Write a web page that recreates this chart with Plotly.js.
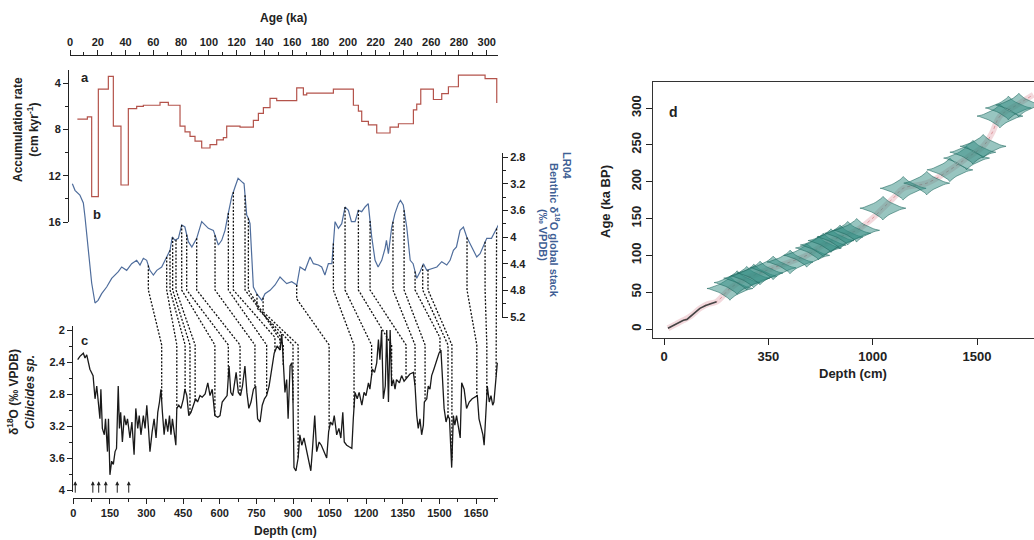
<!DOCTYPE html>
<html><head><meta charset="utf-8">
<script src="https://cdn.plot.ly/plotly-3.0.1.min.js"></script>
<style>html,body{margin:0;padding:0;background:#fff}#chart{width:1034px;height:540px}</style>
</head><body><div id="chart"></div>
<script>
// ---------- Panel a: accumulation rate (step start ages, ka) ----------
const accAge  = [5.3,12.5,15.6,20.4,27.6,31.2,36.7,42.0,48.0,52.8,64.8,70.8,79.2,82.8,86.4,90.0,94.8,100.8,105.6,110.4,112.8,122.4,132.0,135.6,139.2,144.0,148.8,163.2,168.0,170.4,189.6,204.0,207.6,210.0,214.8,220.8,230.4,236.4,247.2,249.6,252.5,261.6,267.6,272.4,279.6,298.8,306.0,307.2];
const accRate = [7.1,6.9,13.8,4.5,3.4,7.7,12.8,6.2,6.0,5.9,5.65,5.9,7.7,8.2,8.6,9.0,9.6,9.3,8.9,8.7,7.7,7.8,7.2,6.6,6.1,5.3,5.5,4.4,5.0,4.85,4.5,5.9,6.4,7.3,7.6,8.3,7.8,7.5,6.3,5.8,4.5,5.4,4.9,4.3,3.3,3.6,3.6,5.7];

// ---------- Panel b: LR04 benthic d18O stack ----------
const lr04Age = [1.7,3.6,7.1,9.6,10.8,13.1,15.6,18.0,20.2,22.8,
 26.4,30.0,34.8,37.2,40.8,44.4,48.0,50.4,52.8,55.2,
 57.5,60.0,62.5,66.0,69.6,72.0,73.6,75.6,78.0,80.4,
 82.7,85.2,87.7,91.2,94.8,97.2,99.6,103.2,106.8,109.2,
 111.6,113.9,116.4,118.8,121.0,123.6,125.3,127.2,128.4,129.6,
 132.0,134.4,138.1,140.4,144.0,147.6,151.2,153.6,156.0,159.6,
 163.3,165.6,169.2,172.8,175.2,178.8,181.2,183.5,186.0,188.5,
 190.8,193.2,195.6,198.0,200.4,202.6,205.2,207.6,210.0,212.4,
 214.7,217.2,219.6,221.8,224.4,226.8,227.8,229.2,231.6,233.9,
 236.4,237.9,239.9,242.4,244.9,247.0,249.6,252.0,254.4,256.8,
 260.4,264.1,267.6,271.2,273.6,276.0,278.2,280.8,283.2,285.6,
 288.0,290.3,292.8,295.2,297.6,300.0,303.4,306.0,308.4];
const lr04D18O = [3.2,3.3,3.37,3.49,3.7,4.2,4.69,4.99,4.95,4.85,
 4.75,4.62,4.52,4.45,4.5,4.4,4.35,4.42,4.32,4.35,
 4.5,4.57,4.5,4.45,4.3,4.2,4.0,4.05,4.02,3.82,
 3.85,4.07,4.15,4.02,3.77,3.82,3.87,3.9,4.12,4.05,
 3.9,3.65,3.4,3.25,3.12,3.17,3.2,3.67,3.72,3.8,
 4.75,4.85,4.95,4.85,4.8,4.72,4.6,4.65,4.7,4.67,
 4.72,4.45,4.5,4.3,4.4,4.42,4.45,4.57,4.4,4.4,
 3.77,3.87,3.8,3.55,3.6,3.77,3.77,3.6,3.62,3.55,
 3.5,4.0,4.35,4.45,4.35,4.17,4.05,4.25,3.85,3.65,
 3.5,3.45,3.52,3.85,4.35,4.4,4.62,4.52,4.4,4.5,
 4.47,4.45,4.37,4.42,4.35,4.2,4.15,3.9,3.85,4.0,
 4.1,4.2,4.3,4.25,4.12,4.02,4.02,3.92,3.82];

// ---------- Panel c: Cibicides sp. d18O vs depth ----------
const cibDepth = [18,27,41,48,55,61,68,81,89,96,
 103,109,113,119,127,132,140,144,150,157,
 164,171,177,184,189,194,201,209,216,222,
 232,240,249,256,264,270,277,287,294,301,
 307,314,323,331,339,346,353,359,365,372,
 379,387,394,400,406,414,420,424,432,441,
 451,457,465,473,482,492,501,509,519,528,
 540,551,560,569,580,592,601,610,621,630,
 638,645,653,659,667,676,685,693,703,711,
 719,728,738,747,755,765,774,783,792,802,
 813,823,835,847,854,860,867,874,880,888,
 895,899,904,912,921,928,936,945,956,967,
 973,980,989,997,1007,1016,1027,1038,1046,1054,
 1062,1069,1079,1088,1096,1104,1110,1120,1130,1141,
 1147,1154,1163,1171,1182,1191,1199,1209,1215,1225,
 1234,1243,1250,1256,1263,1270,1278,1284,1291,1298,
 1304,1311,1318,1324,1336,1345,1355,1365,1379,1393,
 1400,1407,1413,1420,1427,1434,1438,1448,1454,1461,
 1468,1477,1489,1498,1506,1513,1519,1527,1534,1541,
 1546,1550,1557,1563,1570,1577,1585,1591,1601,1611,
 1622,1634,1646,1655,1662,1670,1678,1683,1690,1696,
 1704,1711,1718,1723,1731,1737];
const cibD18O = [2.37,2.33,2.29,2.35,2.31,2.41,2.49,2.57,2.86,2.70,
 2.94,3.11,2.74,3.23,3.31,3.11,3.52,3.11,3.81,3.64,
 3.68,3.52,3.48,2.70,3.23,3.03,3.40,3.07,3.19,3.11,
 3.35,3.15,3.56,2.98,3.23,3.07,3.31,3.07,3.23,2.94,
 3.19,3.52,3.27,3.11,3.35,3.03,2.90,2.74,3.03,3.31,
 3.11,3.27,3.07,3.31,3.11,3.27,3.44,2.98,2.94,2.98,
 2.86,2.74,2.82,3.07,3.03,2.94,2.86,2.90,2.82,2.84,
 2.80,2.66,2.82,2.74,3.07,3.09,3.07,2.90,2.86,2.82,
 2.45,2.78,2.82,2.70,2.53,2.78,2.82,2.70,2.45,2.78,
 2.98,2.90,2.74,2.70,3.11,3.15,2.94,2.86,2.82,2.70,
 2.49,2.29,2.20,2.25,2.05,2.45,2.78,2.62,3.11,2.45,
 2.41,2.70,3.72,3.76,3.60,3.31,3.44,3.35,3.52,3.68,
 3.76,3.48,3.07,3.52,3.40,3.44,3.52,3.60,3.27,3.15,
 3.19,3.07,3.31,3.23,3.35,3.03,3.40,3.44,3.46,3.48,
 3.11,2.78,2.86,2.78,2.94,2.78,2.82,2.66,2.74,2.49,
 2.53,2.41,2.12,2.37,2.00,2.86,2.70,2.00,2.90,2.00,
 2.70,2.62,2.74,2.62,2.66,2.57,2.64,2.60,2.55,2.53,
 2.70,3.07,3.23,3.11,3.31,3.19,2.90,2.86,2.70,2.74,
 2.57,2.49,2.37,2.29,2.25,2.70,2.98,3.15,3.07,3.11,
 3.52,3.72,3.07,3.19,3.07,3.23,3.35,2.66,2.74,2.98,
 2.90,2.86,2.84,2.82,3.11,3.23,3.31,3.44,3.03,2.70,
 2.90,2.82,2.94,2.90,2.62,2.41];

// tie points between LR04 (age) and core (depth)
const tieAge   = [56.4,69.6,72.0,73.9,76.3,80.4,84.0,91.2,104.4,114.0,117.6,126.0,128.4,134.6,139.0,163.2,189.6,198.0,207.6,216.0,232.5,240.5,248.4,253.9,257.7,285.8,298.8,307.1];
const tieDepth = [362,424,458,478,499,580,635,683,744,792,826,847,860,900,921,1048,1150,1222,1304,1363,1400,1441,1502,1535,1551,1653,1694,1732];
// radiocarbon dated depths (arrows)
const datedDepth = [8,80,104,133,180,227];

// ---------- Panel d: age-depth model ----------
const modelDepth = [19,60,93,130,172,210,252,316,396,460,523,604,684,763,843,923,990,1049,1100,1146,1259,1370,1450,1529,1570,1610,1690,1770];
const modelAge   = [1,7,12,18,28,34,37,55,69,76,83,91,100,114,125,134,148,164,178,191,198,216,232,248,265,289,304,318];
const earlyDepth = [19,40,60,93,110,130,150,172,200,230,252];
const earlyAge   = [1,4,7,12,13,18,23,28,32,35,37];
const dateDepth = [316,350,396,430,460,523,604,684,740,763,800,843,880,923,1049,1146,1259,1370,1450,1480,1529,1610,1650,1700];
const dateAge   = [55,63,69,72,76,83,91,100,110,114,120,125,130,134,164,191,198,216,232,240,248,289,300,304];
const dTickVals = [0,500,1000,1500];
const dTickText = ['0','350','1000','1500'];

// ---------- layout helpers ----------
const W = 1034, H = 540;
const FONT = 'Liberation Sans, Arial, sans-serif';
const INK = '#222';
const pX = p => p / W;
const pY = p => 1 - p / H;
const tickF = {family: FONT, size: 11, color: INK, weight: 'bold'};
const common = {showgrid: false, zeroline: false, showline: true, linecolor: INK, linewidth: 1,
  ticks: 'outside', ticklen: 5, tickwidth: 1, tickcolor: INK, tickfont: tickF};

const axDepth = Object.assign({}, common, {domain: [pX(72.7), pX(498.3)], range: [-2.5, 1741],
  anchor: 'free', position: pY(498), side: 'bottom', tick0: 0, dtick: 150,
  minor: {dtick: 75, ticklen: 3, ticks: 'outside', tickcolor: INK}});
const axAge = Object.assign({}, common, {domain: [pX(70), pX(498)], range: [0, 308.1],
  anchor: 'free', position: pY(55), side: 'top', tick0: 0, dtick: 20,
  minor: {dtick: 10, ticklen: 3, ticks: 'outside', tickcolor: INK}});
const yA = Object.assign({}, common, {domain: [pY(222), pY(70)], range: [16, 2.85],
  anchor: 'free', position: pX(68), side: 'left', tick0: 0, dtick: 4,
  minor: {dtick: 2, ticklen: 3, ticks: 'outside', tickcolor: INK}});
const yB = Object.assign({}, common, {domain: [pY(318), pY(153)], range: [5.215, 2.74],
  anchor: 'free', position: pX(502), side: 'right', tick0: 0, dtick: 0.4,
  minor: {dtick: 0.2, ticklen: 3, ticks: 'outside', tickcolor: INK}});
const yC = Object.assign({}, common, {domain: [pY(492), pY(326)], range: [4.025, 1.95],
  anchor: 'free', position: pX(72), side: 'left', tick0: 0, dtick: 0.4,
  minor: {dtick: 0.2, ticklen: 3, ticks: 'outside', tickcolor: INK}});
const xD = Object.assign({}, common, {domain: [pX(653), 1], range: [-52.7, 1773], anchor: 'y4',
  tickvals: dTickVals, ticktext: dTickText, ticklen: 6, mirror: true, linewidth: 1.2, linecolor: '#333',
  tickfont: {family: FONT, size: 13, color: INK, weight: 'bold'}});
const yD = Object.assign({}, common, {domain: [pY(338), pY(82)], range: [-12.2, 335.3], anchor: 'x3',
  tick0: 0, dtick: 50, tickangle: -90, ticklen: 6, linewidth: 1.2, linecolor: '#333',
  tickfont: {family: FONT, size: 13, color: INK, weight: 'bold'}});
const xO = {domain: [0, 1], range: [0, 1], visible: false, anchor: 'y5', fixedrange: true};
const yO = {domain: [0, 1], range: [0, 1], visible: false, anchor: 'x4', fixedrange: true};

function toPaper(ax, v) {
  return ax.domain[0] + (v - ax.range[0]) / (ax.range[1] - ax.range[0]) * (ax.domain[1] - ax.domain[0]);
}
function interp(xs, ys, x) {
  if (x <= xs[0]) return ys[0];
  for (let i = 0; i < xs.length - 1; i++) {
    if (x >= xs[i] && x <= xs[i + 1]) {
      const t = (x - xs[i]) / (xs[i + 1] - xs[i]);
      return ys[i] + t * (ys[i + 1] - ys[i]);
    }
  }
  return ys[ys.length - 1];
}

// ---------- connectors (dotted tie lines) ----------
const BEND_TOP_MIN = 290, BEND_BOT_MAX = 345, BEND_OFF = 14;
const cx = [], cy = [];
tieAge.forEach((a, i) => {
  const d = tieDepth[i];
  const xa = toPaper(axAge, a), xd = toPaper(axDepth, d);
  const yb = toPaper(yB, interp(lr04Age, lr04D18O, a));
  const yk = toPaper(yC, interp(cibDepth, cibD18O, d));
  const ybPx = H * (1 - yb), ykPx = H * (1 - yk);
  const b1 = Math.max(ybPx + BEND_OFF, BEND_TOP_MIN);
  const b2 = Math.max(Math.min(ykPx - BEND_OFF, BEND_BOT_MAX), b1);
  cx.push(xa, xa, xd, xd, null);
  cy.push(yb, pY(b1), pY(b2), yk, null);
});

// ---------- traces ----------
const traces = [];
traces.push({x: cx, y: cy, xaxis: 'x4', yaxis: 'y5', mode: 'lines', hoverinfo: 'skip',
  line: {color: '#111', width: 1.3, dash: '2px,1.6px'}, connectgaps: false});
traces.push({x: accAge, y: accRate, xaxis: 'x2', yaxis: 'y', mode: 'lines',
  line: {color: '#b4534b', width: 1.2, shape: 'hv'}});
traces.push({x: lr04Age, y: lr04D18O, xaxis: 'x2', yaxis: 'y2', mode: 'lines',
  line: {color: '#4f6d9c', width: 1.2}});
traces.push({x: cibDepth, y: cibD18O, xaxis: 'x', yaxis: 'y3', mode: 'lines',
  line: {color: '#1a1a1a', width: 1.3}});

// Panel d
traces.push({x: modelDepth, y: modelAge, xaxis: 'x3', yaxis: 'y4', mode: 'lines',
  line: {color: 'rgba(225,160,170,0.4)', width: 6, shape: 'spline'}});
traces.push({x: modelDepth, y: modelAge, xaxis: 'x3', yaxis: 'y4', mode: 'lines',
  line: {color: 'rgba(200,80,90,0.5)', width: 1, dash: 'dot', shape: 'spline'}});
const BW = 110, BH = 16, PW = 2.6, NPT = 64;
dateDepth.forEach((d, i) => {
  const a = dateAge[i];
  const xs = [], ys = [];
  for (let k = 0; k <= NPT; k++) {
    const t = k / NPT * 2 * Math.PI, c = Math.cos(t), s = Math.sin(t);
    xs.push(d + BW * Math.sign(c) * Math.pow(Math.abs(c), PW));
    ys.push(a + BH * Math.sign(s) * Math.pow(Math.abs(s), PW));
  }
  traces.push({x: xs, y: ys, xaxis: 'x3', yaxis: 'y4', mode: 'lines', fill: 'toself',
    fillcolor: 'rgba(50,140,130,0.5)', line: {color: 'rgba(30,105,95,0.8)', width: 0.7}});
});
traces.push({x: earlyDepth, y: earlyAge, xaxis: 'x3', yaxis: 'y4', mode: 'lines',
  line: {color: '#444', width: 1.6}});

// ---------- annotations ----------
function ann(text, x, y, opt) {
  return Object.assign({text: text, xref: 'paper', yref: 'paper', x: pX(x), y: pY(y),
    xanchor: 'center', yanchor: 'middle', showarrow: false,
    font: {family: FONT, size: 12, color: INK}}, opt || {});
}
const BLUE_T = '#3f5f95';
const blueF = {family: FONT, size: 11, color: BLUE_T};
const annotations = [
  ann('<b>Age (ka)</b>', 283, 18),
  ann('<b>Depth (cm)</b>', 285, 531),
  ann('<b>Accumulation rate<br>(cm kyr<sup>-1</sup>)</b>', 26, 130, {textangle: -90}),
  ann('<b>δ<sup>18</sup>O (‰ VPDB)<br><i>Cibicides sp.</i></b>', 21, 392, {textangle: -90}),
  ann('<b>LR04</b>', 567, 166, {textangle: 90, font: blueF}),
  ann('<b>Benthic δ<sup>18</sup>O global stack</b>', 555, 230, {textangle: 90, font: blueF}),
  ann('<b>(‰ VPDB)</b>', 543, 235, {textangle: 90, font: blueF}),
  ann('<b>a</b>', 85, 77, {font: {family: FONT, size: 13, color: INK}}),
  ann('<b>b</b>', 97, 214, {font: {family: FONT, size: 13, color: INK}}),
  ann('<b>c</b>', 84, 340, {font: {family: FONT, size: 13, color: INK}}),
  ann('<b>d</b>', 673, 112, {font: {family: FONT, size: 14, color: INK}}),
  ann('<b>Age (ka BP)</b>', 606, 202, {textangle: -90, font: {family: FONT, size: 13, color: INK}}),
  ann('<b>Depth (cm)</b>', 853, 374, {font: {family: FONT, size: 13, color: INK}})
];
// dated-depth arrows drawn at data positions on the depth axis
datedDepth.forEach(d => {
  annotations.push({x: d, y: 3.89, xref: 'x', yref: 'y3', text: '', showarrow: true,
    arrowhead: 2, arrowsize: 0.8, arrowwidth: 1, arrowcolor: INK, ax: 0, ay: 13});
});

const layout = {
  width: W, height: H, margin: {l: 0, r: 0, t: 0, b: 0, pad: 0},
  paper_bgcolor: '#fff', plot_bgcolor: 'rgba(0,0,0,0)', showlegend: false,
  font: {family: FONT, color: INK},
  xaxis: axDepth, xaxis2: axAge, xaxis3: xD, xaxis4: xO,
  yaxis: yA, yaxis2: yB, yaxis3: yC, yaxis4: yD, yaxis5: yO,
  annotations: annotations
};
Plotly.newPlot('chart', traces, layout, {staticPlot: true, displayModeBar: false});
</script></body></html>
